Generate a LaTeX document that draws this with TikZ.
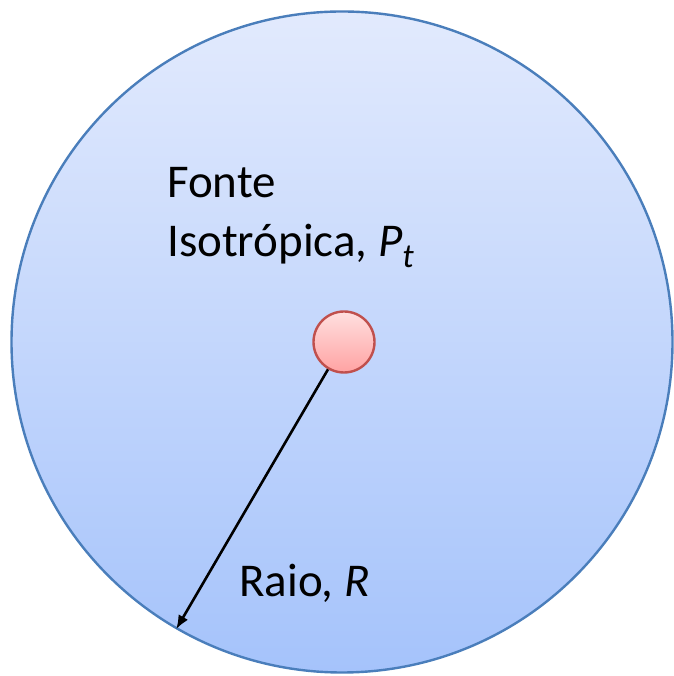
\documentclass[tikz,border=0pt]{standalone}
\usepackage{fontspec}
\setmainfont{Carlito}
\usetikzlibrary{arrows.meta}
\definecolor{bigtop}{HTML}{E2EAFD}
\definecolor{bigbot}{HTML}{A5C3FB}
\definecolor{bigedge}{HTML}{4A7EBB}
\definecolor{srctop}{HTML}{FFE0E0}
\definecolor{srcbot}{HTML}{FFA3A3}
\definecolor{srcedge}{HTML}{C0504D}
\tikzset{
  sphere/.style={circle, inner sep=0pt, minimum size=661pt, draw=bigedge, line width=2.4pt, top color=bigtop, bottom color=bigbot},
  source/.style={circle, inner sep=0pt, minimum size=61pt, draw=srcedge, line width=2.4pt, top color=srctop, bottom color=srcbot},
  lbl/.style={anchor=base west, inner sep=0pt, font=\fontsize{47}{56}\selectfont},
  radius arrow/.style={line width=2.6pt, -{Latex[length=14pt,width=11pt]}}
}
\newcommand{\subt}{\raisebox{-11pt}{\fontsize{34}{36}\selectfont\itshape t}}
\begin{document}
\begin{tikzpicture}[x=1pt,y=1pt]
\useasboundingbox (0,0) rectangle (673,676);
\node[sphere] (big) at (342,334) {};
\node[source] (src) at (344,334) {};
\draw[radius arrow] (src) -- (big.240);
\node[lbl] (l1) at (167,478) {Fonte};
\node[lbl] (l2) at (167,419) {Isotrópica, {\itshape P}\subt};
\node[lbl] (l3) at (239,79) {Raio, {\itshape R}};
\end{tikzpicture}
\end{document}
